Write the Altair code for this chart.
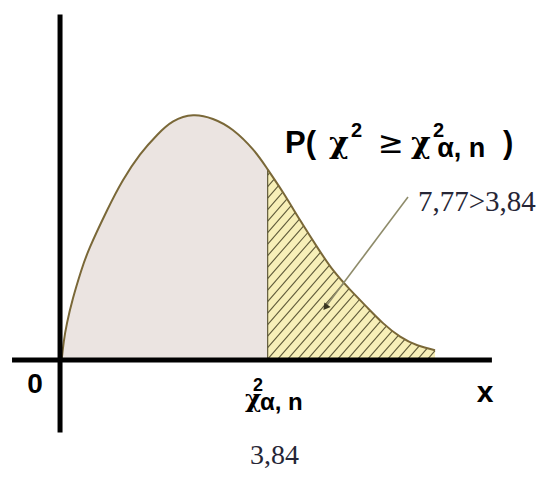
import altair as alt
import pandas as pd
import numpy as np

# ---- data ----
curve_x = [0.00, 0.04, 0.10, 0.21, 0.36, 0.53, 0.85, 1.14, 1.46, 1.78, 2.08, 2.45, 2.82, 3.19,
           3.57, 3.84, 4.13, 4.44, 4.76, 5.06, 5.38, 5.69, 5.99, 6.31, 6.63, 6.96]
curve_y = [0.000, 0.015, 0.030, 0.050, 0.072, 0.092, 0.122, 0.146, 0.167, 0.183, 0.194, 0.199, 0.196, 0.187,
           0.171, 0.155, 0.136, 0.114, 0.092, 0.073, 0.057, 0.043, 0.030, 0.019, 0.012, 0.008]
critical = 3.84

# axis lines (data units)
xaxis_from, xaxis_to, xaxis_at = [-0.925], [8.02], [0.0]
yaxis_from, yaxis_to, yaxis_at = [-0.059], [0.281], [-0.03]

# annotation labels
title_bold_text = ["P(", ")"]
title_bold_x = [4.163, 8.227]
title_bold_y = [0.1683, 0.1683]
title_bold_size = [31, 31]

chi_text = ["χ", "χ", "χ"]
chi_x = [4.985, 6.513, 3.418]
chi_y = [0.1683, 0.1683, -0.0382]
chi_size = [30, 30, 25]

sup_text = ["2", "2", "2"]
sup_x = [5.395, 6.923, 3.568]
sup_y = [0.1813, 0.1813, -0.0252]
sup_size = [20, 20, 18]

sub_text = ["α, n", "α, n"]
sub_x = [7.0, 3.697]
sub_y = [0.165, -0.0407]
sub_size = [27, 24]

geq_text = ["≥"]
geq_x = [5.897]
geq_y = [0.1683]

serif_text = ["7,77>3,84", "3,84"]
serif_x = [6.642, 3.511]
serif_y = [0.1211, -0.0842]
serif_size = [29, 28]

axis_lbl_text = ["0", "x"]
axis_lbl_x = [-0.497, 7.891]
axis_lbl_y = [-0.0268, -0.0341]
axis_lbl_size = [28, 30]

leader_x, leader_y = [6.456], [0.1325]
leader_x2, leader_y2 = [4.946], [0.0447]
arrow_x, arrow_y = [4.93], [0.0435]

# ---- scales ----
W, H = 544, 461
x_domain = [-1.0, 9.14]
y_domain = [-0.0886, 0.2862]
xs = alt.Scale(domain=x_domain, nice=False, zero=False)
ys = alt.Scale(domain=y_domain, nice=False, zero=False)


def X(f):
    return alt.X(f, type="quantitative", scale=xs, axis=None)


def Y(f):
    return alt.Y(f, type="quantitative", scale=ys, axis=None)


curve = pd.DataFrame({"x": curve_x, "y": curve_y})
left = curve[curve.x <= critical]
right = curve[curve.x >= critical]

INTERP = "natural"

area_left = alt.Chart(left).mark_area(interpolate=INTERP, color="#ebe4e1").encode(
    x=X("x"), y=Y("y"), y2=alt.datum(0))
area_right = alt.Chart(right).mark_area(interpolate=INTERP, color="#f7efb8").encode(
    x=X("x"), y=Y("y"), y2=alt.datum(0))

# hatch lines clipped to the right-hand region (decoration)
px_x = W / (x_domain[1] - x_domain[0])
px_y = H / (y_domain[1] - y_domain[0])
slope = 1.15 * px_x / px_y
step = 10 / px_x
x_end = curve_x[-1]
gx = np.linspace(critical, x_end, 3000)
gy = np.interp(gx, curve_x, curve_y)
y_cut = float(np.interp(critical, curve_x, curve_y))
segs = []
c = critical - y_cut / slope + step * 0.5
while c < x_end:
    x0 = max(c, critical)
    y0 = slope * (x0 - c)
    ly = slope * (gx - c)
    mask = (gx >= x0) & (ly >= gy)
    if mask.any():
        i = int(np.argmax(mask))
        x1, y1 = gx[i], gy[i]
    else:
        x1, y1 = x_end, slope * (x_end - c)
    if x1 > x0:
        segs.append({"x": x0, "y": y0, "x2": x1, "y2": y1})
    c += step
hatch = pd.DataFrame(segs)
hatch_layer = alt.Chart(hatch).mark_rule(color="#5f5a3a", strokeWidth=1.1).encode(
    x=X("x"), y=Y("y"), x2="x2", y2="y2")

cut_line = alt.Chart(pd.DataFrame({"x": [critical], "y": [0.0], "y2": [y_cut]})).mark_rule(
    color="#5f5a3a", strokeWidth=1.2).encode(x=X("x"), y=Y("y"), y2="y2")

curve_line = alt.Chart(curve).mark_line(interpolate=INTERP, color="#7a6838", strokeWidth=2).encode(
    x=X("x"), y=Y("y"))

xaxis = alt.Chart(pd.DataFrame({"x": xaxis_from, "x2": xaxis_to, "y": xaxis_at})).mark_rule(
    color="black", strokeWidth=5).encode(x=X("x"), x2="x2", y=Y("y"))
yaxis = alt.Chart(pd.DataFrame({"x": yaxis_at, "y": yaxis_from, "y2": yaxis_to})).mark_rule(
    color="black", strokeWidth=5).encode(x=X("x"), y=Y("y"), y2="y2")

leader = alt.Chart(pd.DataFrame({"x": leader_x, "y": leader_y, "x2": leader_x2, "y2": leader_y2})).mark_rule(
    color="#8e8b6a", strokeWidth=1.6).encode(x=X("x"), y=Y("y"), x2="x2", y2="y2")
arrow = alt.Chart(pd.DataFrame({"x": arrow_x, "y": arrow_y})).mark_point(
    shape="triangle", filled=True, size=60, angle=217, color="#3a3622", opacity=1).encode(x=X("x"), y=Y("y"))


def text_layer(xv, yv, tv, sv, font, weight, align="left", color="black"):
    df = pd.DataFrame({"x": xv, "y": yv, "t": tv, "s": sv})
    return alt.Chart(df).mark_text(align=align, baseline="alphabetic", font=font,
                                   fontWeight=weight, color=color).encode(
        x=X("x"), y=Y("y"), text="t:N", size=alt.Size("s:Q", scale=None, legend=None))


t_title = text_layer(title_bold_x, title_bold_y, title_bold_text, title_bold_size, "Liberation Sans", "bold")
t_chi = text_layer(chi_x, chi_y, chi_text, chi_size, "DejaVu Serif", "bold")
t_sup = text_layer(sup_x, sup_y, sup_text, sup_size, "Liberation Sans", "bold")
t_sub = text_layer(sub_x, sub_y, sub_text, sub_size, "Liberation Sans", "bold")
t_geq = text_layer(geq_x, geq_y, geq_text, [31], "DejaVu Sans", "normal")
t_serif = text_layer(serif_x, serif_y, serif_text, serif_size, "Liberation Serif", "normal", color="#262636")
t_axis = text_layer(axis_lbl_x, axis_lbl_y, axis_lbl_text, axis_lbl_size, "Liberation Sans", "bold", align="center")

chart = alt.layer(
    area_left, area_right, hatch_layer, cut_line, curve_line,
    xaxis, yaxis, leader, arrow,
    t_title, t_chi, t_sup, t_sub, t_geq, t_serif, t_axis,
).properties(width=W, height=H, padding=0, autosize="none").configure_view(stroke=None)

chart.save("out.html", embed_options={"renderer": "svg", "actions": False})
